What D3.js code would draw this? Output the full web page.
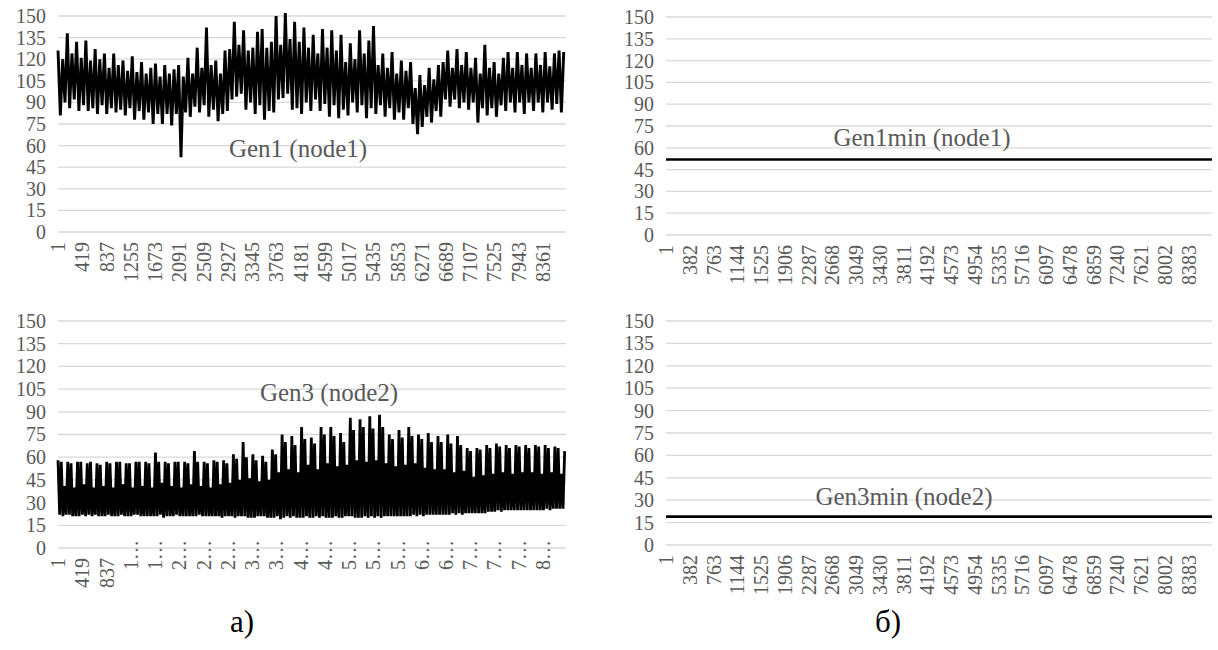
<!DOCTYPE html>
<html><head><meta charset="utf-8">
<script src="https://cdn.jsdelivr.net/npm/d3@7"></script>
<style>
body{margin:0;background:#fff}
svg{display:block}
svg text{font-family:"Liberation Serif","Times New Roman",serif !important;}
</style>
</head><body><svg id="c" width="1218" height="650"></svg>
<script>
// ---------- data ----------
const hoursTotal = 8760;
const gen1StepHours = 40;   // one reading every 40 h, alternating local peak / trough
const gen1Peaks = [
126,120,138,124,132,121,133,119,127,120,
124,114,124,116,119,112,122,111,118,110,
114,117,108,116,110,113,116,108,121,110,
128,114,142,116,119,110,126,127,146,130,
140,126,128,139,141,128,132,150,130,152,
134,146,132,142,128,137,124,141,128,140,
126,137,118,131,120,140,124,133,143,116,
124,114,125,110,119,112,118,100,109,102,
114,106,116,118,126,114,127,116,125,114,
121,110,130,114,118,110,121,125,114,125,
116,124,114,124,116,125,115,124,126,125];
const gen1Troughs = [
81,90,86,92,84,88,84,86,82,88,
82,86,83,85,81,86,78,84,78,83,
75,82,75,82,74,82,52,83,80,87,
83,88,80,85,77,82,84,92,94,96,
85,90,82,88,78,84,83,92,93,96,
85,86,82,90,84,92,84,89,80,88,
79,85,81,90,83,88,79,86,82,88,
80,86,78,83,78,86,75,68,73,80,
76,84,80,92,87,92,86,90,85,90,
76,86,81,86,80,88,84,90,83,90,
82,90,84,90,83,90,85,89,83];
const gen3StepHours = 28;   // one reading every 28 h (six per week)
const gen3Values = [
58,22,57,21,41,22, 57,22,56,21,40,21, 57,21,57,22,42,21, 56,22,57,21,40,22,
56,21,55,21,41,21, 57,22,56,21,40,21, 57,21,57,22,42,21, 56,21,56,21,40,22,
57,22,57,21,41,21, 57,21,56,21,40,21, 63,21,57,22,43,20, 57,21,56,21,41,21,
57,22,57,21,40,21, 57,21,56,21,42,21, 64,21,57,22,41,21, 57,21,56,21,40,21,
58,21,57,21,42,20, 58,21,56,21,43,21, 62,20,59,21,45,21, 70,21,60,20,46,20,
62,20,58,21,44,21, 61,21,57,20,45,20, 65,20,62,21,50,19, 75,20,70,21,52,20,
74,21,68,20,50,20, 80,20,72,21,55,20, 73,20,69,21,52,20, 80,21,75,20,56,20,
80,20,74,21,54,20, 76,20,70,21,55,21, 86,21,78,20,58,20, 85,20,80,21,57,20,
87,21,79,20,58,21, 88,20,80,21,56,21, 75,21,72,21,54,21, 78,21,73,21,55,21,
80,21,74,22,56,21, 75,22,72,21,53,22, 76,22,70,22,52,22, 74,22,70,22,52,22,
75,22,69,23,50,22, 74,23,68,22,51,23, 66,23,64,23,47,23, 66,23,65,23,48,23,
68,24,66,24,49,24, 69,25,67,24,50,25, 68,25,66,25,49,25, 68,25,67,25,50,25,
68,25,66,25,50,25, 68,25,67,25,49,25, 68,26,66,25,50,26, 67,26,66,26,49,26,
64];
const minHours = [1, 8760];
const gen1MinValues = [52, 52];
const gen3MinValues = [19, 19];
const yTicks = [0,15,30,45,60,75,90,105,120,135,150];
const ticksA = [1,419,837,1255,1673,2091,2509,2927,3345,3763,4181,4599,5017,5435,5853,6271,6689,7107,7525,7943,8361];
const ticksB = [1,382,763,1144,1525,1906,2287,2668,3049,3430,3811,4192,4573,4954,5335,5716,6097,6478,6859,7240,7621,8002,8383];
const gen3AxisLabels = ["1","419","837","1…","1…","2…","2…","2…","3…","3…","4…","4…","5…","5…","5…","6…","6…","7…","7…","7…","8…"];
const titles = ["Gen1 (node1)","Gen1min (node1)","Gen3 (node2)","Gen3min (node2)"];
const captions = ["а)","б)"];

// ---------- build series ----------
const gen1 = [];
gen1Peaks.forEach((p,k)=>{
  gen1.push({h:1+gen1StepHours*(2*k), v:p});
  if (k < gen1Troughs.length) gen1.push({h:1+gen1StepHours*(2*k+1), v:gen1Troughs[k]});
});
const gen3 = gen3Values.map((v,i)=>({h:1+gen3StepHours*i, v}));
const gen1min = minHours.map((h,i)=>({h, v:gen1MinValues[i]}));
const gen3min = minHours.map((h,i)=>({h, v:gen3MinValues[i]}));

const GREY = "#595959";
const svg = d3.select("#c");

const panels = [
  {x0:58, x1:566, yb:232, yt:16, series:gen1, sw:2.9, ticks:ticksA, labels:null, title:titles[0], tx:298, ty:157},
  {x0:666, x1:1212, yb:235, yt:17, series:gen1min, sw:2.6, ticks:ticksB, labels:null, title:titles[1], tx:922, ty:146},
  {x0:58, x1:566, yb:548, yt:321, series:gen3, sw:2.8, ticks:ticksA, labels:gen3AxisLabels, title:titles[2], tx:329, ty:401},
  {x0:666, x1:1212, yb:545, yt:321, series:gen3min, sw:2.6, ticks:ticksB, labels:null, title:titles[3], tx:904, ty:505}
];

panels.forEach(p=>{
  const x = d3.scaleLinear().domain([0.5, hoursTotal+0.5]).range([p.x0, p.x1]);
  const y = d3.scaleLinear().domain([0,150]).range([p.yb, p.yt]);
  const g = svg.append("g");

  g.selectAll("line.grid").data(yTicks).join("line")
    .attr("x1", p.x0).attr("x2", p.x1)
    .attr("y1", d=>y(d)).attr("y2", d=>y(d))
    .attr("stroke", "#d9d9d9").attr("stroke-width", 1.3);

  const ya = g.append("g").attr("transform", `translate(${p.x0},0)`)
    .call(d3.axisLeft(y).tickValues(yTicks).tickSize(0).tickPadding(12));
  ya.select(".domain").remove();
  ya.selectAll("text").attr("font-size", 20).attr("fill", GREY);

  const xa = g.append("g").attr("transform", `translate(0,${p.yb})`)
    .call(d3.axisBottom(x).tickValues(p.ticks).tickSize(0)
      .tickFormat((d,i)=> p.labels ? p.labels[i] : String(d)));
  xa.select(".domain").remove();
  xa.selectAll("text")
    .attr("font-size", 20).attr("fill", GREY)
    .attr("text-anchor", "end")
    .attr("transform", "rotate(-90)")
    .attr("y", 0).attr("dy", "0.33em")
    .attr("x", (d,i)=> (p.labels && p.labels[i].endsWith("…")) ? 8 : -10);

  const line = d3.line().x(d=>x(d.h)).y(d=>y(d.v));
  g.append("path").datum(p.series)
    .attr("d", line).attr("fill", "none")
    .attr("stroke", "#000").attr("stroke-width", p.sw)
    .attr("stroke-linejoin", "miter").attr("stroke-miterlimit", 2);

  g.append("text").attr("x", p.tx).attr("y", p.ty)
    .attr("text-anchor", "middle")
    .attr("font-size", 25).attr("fill", GREY).text(p.title);
});

svg.selectAll("text.cap").data(captions).join("text")
  .attr("class","cap")
  .attr("x", (d,i)=> i===0 ? 242 : 888).attr("y", 632)
  .attr("text-anchor","middle")
  .attr("font-size", 31).attr("fill", "#000").text(d=>d);
</script></body></html>
